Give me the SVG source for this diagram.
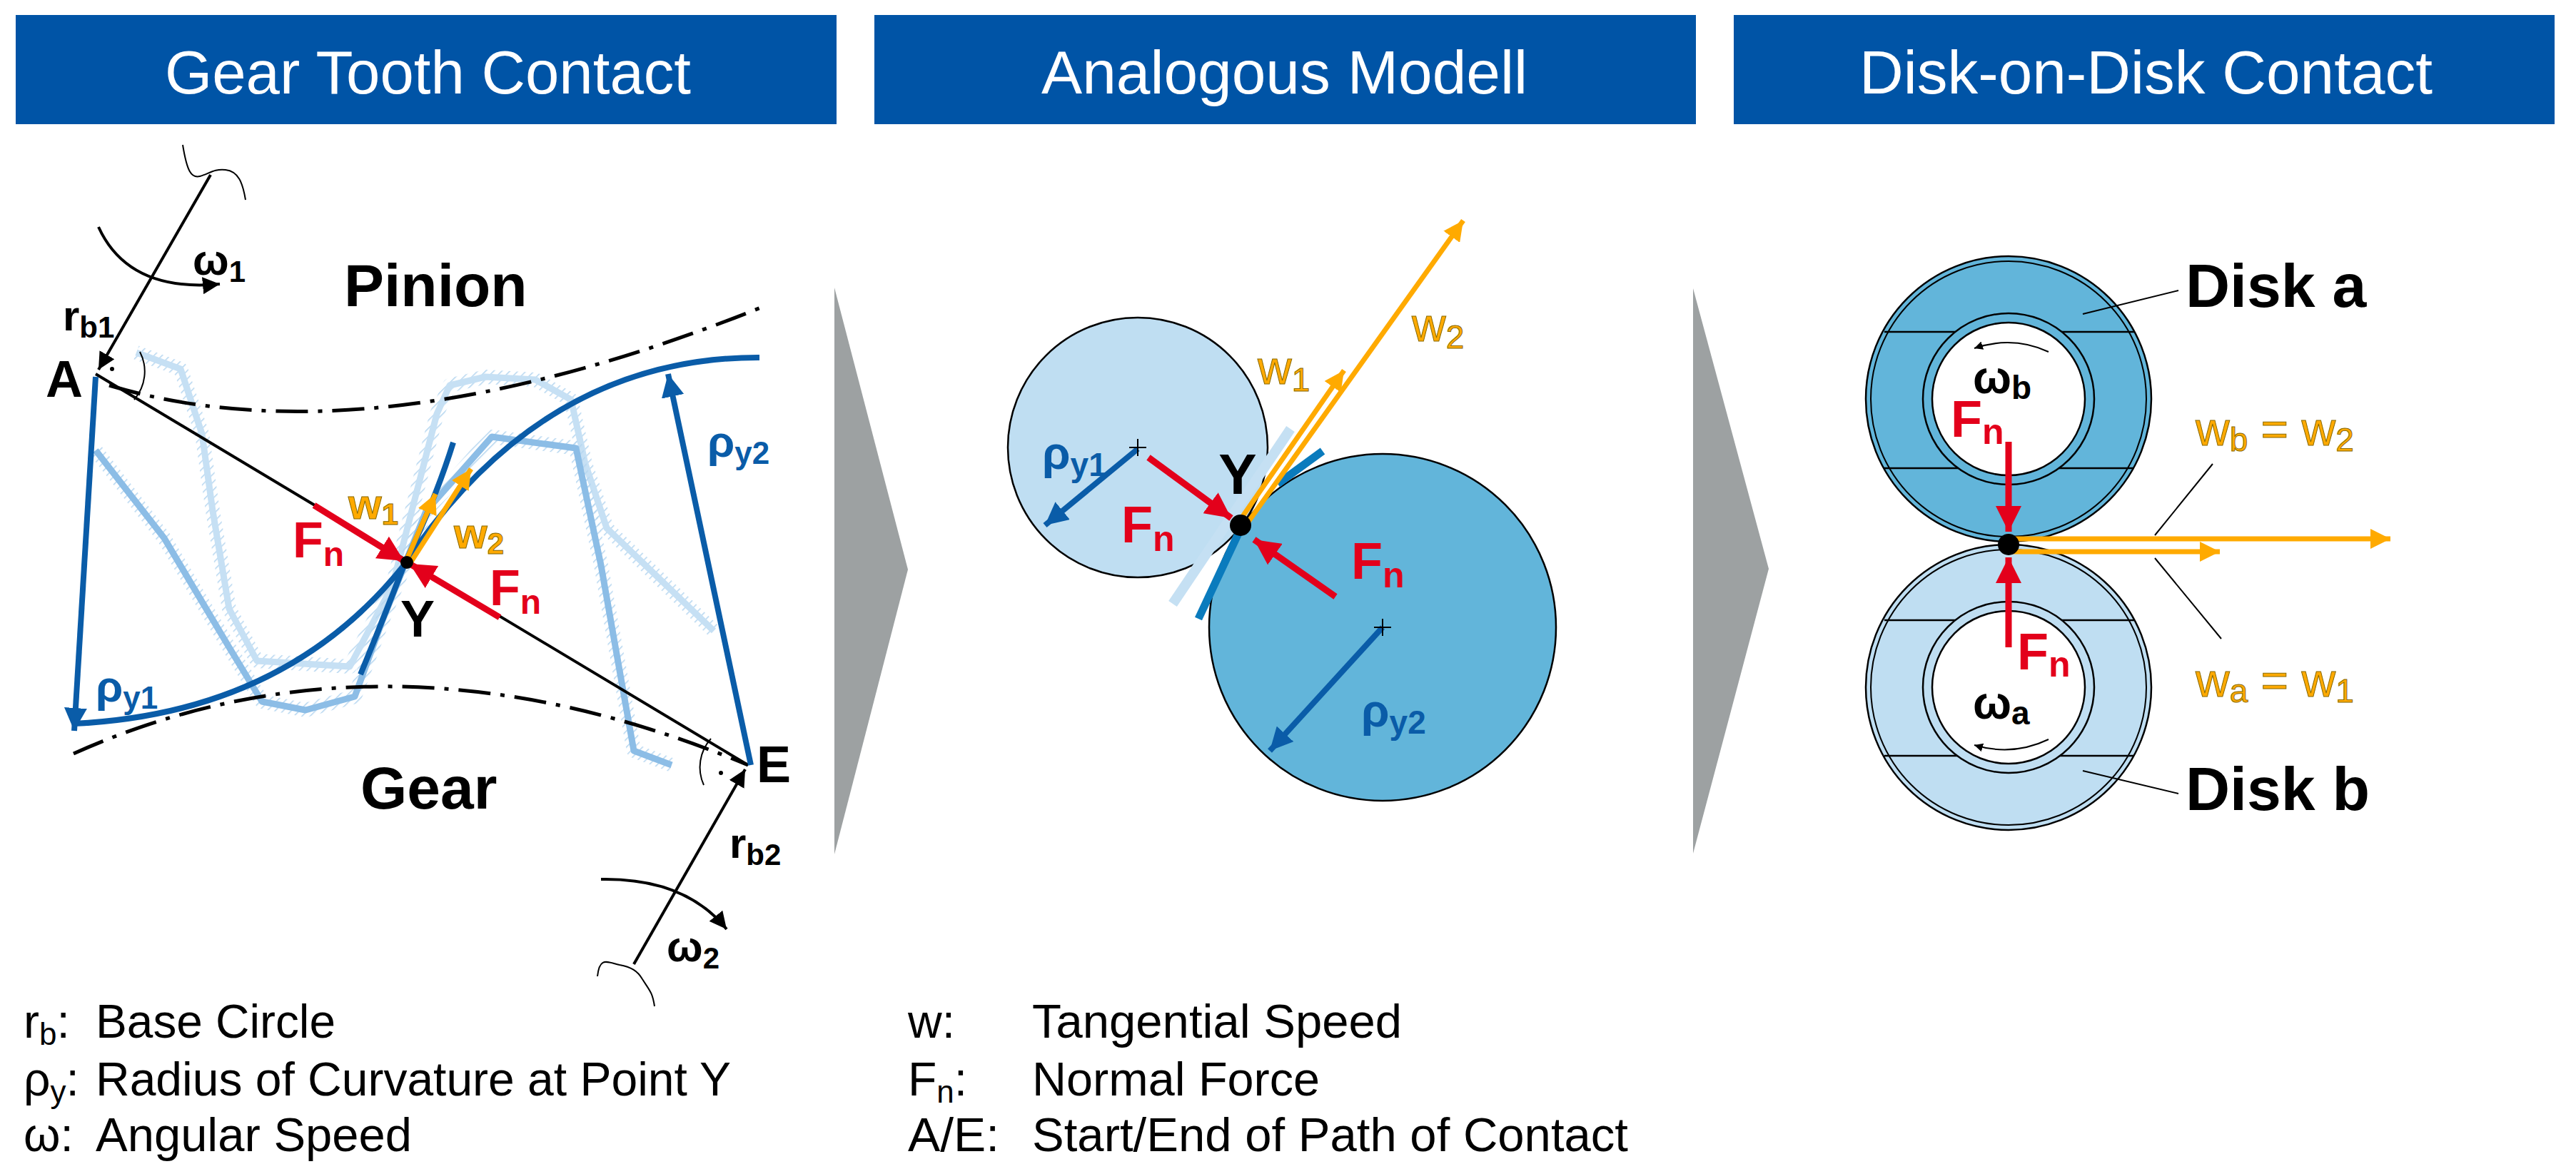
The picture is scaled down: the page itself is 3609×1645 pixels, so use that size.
<svg xmlns="http://www.w3.org/2000/svg" width="3609" height="1645" viewBox="0 0 3609 1645">
<style>
.hdr{fill:#0054a6}
.ht{font-family:"Liberation Sans",Arial,sans-serif;font-size:86px;fill:#fff}
.lb{font-family:"Liberation Sans",Arial,sans-serif;font-weight:bold}
.lg{font-family:"Liberation Sans",Arial,sans-serif;font-size:66px;fill:#000}
.blk{stroke:#000;stroke-width:4;fill:none}
.red{stroke:#e3001b;stroke-width:9;fill:none}
.org{stroke:#ffaa00;stroke-width:7;fill:none}
.dbl{stroke:#0a5ca8;stroke-width:8;fill:none}
.dd{stroke:#000;stroke-width:5;fill:none;stroke-dasharray:45 14 6 14}
.r{fill:#e3001b}.o{fill:#ffaa00;stroke:#8a6a00;stroke-width:1}.b{fill:#0a5ca8}
</style>
<defs>
<pattern id="hatch" width="8" height="8" patternUnits="userSpaceOnUse" patternTransform="rotate(45)"><line x1="0" y1="0" x2="0" y2="8" stroke="#b5d6f0" stroke-width="3"/></pattern>
<marker id="ar" viewBox="0 0 10 10" refX="10" refY="5" markerWidth="4" markerHeight="4" orient="auto"><path d="M0,0L10,5L0,10z" fill="#e3001b"/></marker>
<marker id="ao" viewBox="0 0 10 10" refX="10" refY="5" markerWidth="4" markerHeight="4" orient="auto"><path d="M0,0L10,5L0,10z" fill="#ffaa00"/></marker>
<marker id="ab" viewBox="0 0 10 10" refX="10" refY="5" markerWidth="4" markerHeight="4" orient="auto"><path d="M0,0L10,5L0,10z" fill="#0a5ca8"/></marker>
<marker id="akk" viewBox="0 0 10 10" refX="10" refY="5" markerWidth="6" markerHeight="6" orient="auto"><path d="M0,0L10,5L0,10z" fill="#000"/></marker>
</defs>

<g id="headers">
<rect class="hdr" x="22" y="21" width="1150" height="153"/>
<rect class="hdr" x="1225" y="21" width="1151" height="153"/>
<rect class="hdr" x="2429" y="21" width="1150" height="153"/>
<text class="ht" x="231" y="131" textLength="737" lengthAdjust="spacingAndGlyphs">Gear Tooth Contact</text>
<text class="ht" x="1459" y="131" textLength="681" lengthAdjust="spacingAndGlyphs">Analogous Modell</text>
<text class="ht" x="2605" y="131" textLength="803" lengthAdjust="spacingAndGlyphs">Disk-on-Disk Contact</text>
</g>

<g id="chevrons" fill="#9da1a2">
<path d="M1169,403L1272,798L1169,1197z"/>
<path d="M2372,404L2478,797L2372,1196z"/>
</g>

<g id="gear-contact">
<polyline points="191,494 253,517 283,608 298,716 321,853 360,926 490,934 550,820 612,580 630,540 680,528 750,532 800,560 820,650 850,740 1000,884" fill="none" stroke="url(#hatch)" stroke-width="20" stroke-linejoin="round"/>
<polyline points="191,494 253,517 283,608 298,716 321,853 360,926 490,934 550,820 612,580 630,540 680,528 750,532 800,560 820,650 850,740 1000,884" fill="none" stroke="#c6e0f4" stroke-width="9" stroke-linejoin="round"/>
<polyline points="134,631 230,754 321,907 367,983 428,995 497,976 536,869 597,716 689,612 807,628 842,792 869,945 888,1052 941,1072" fill="none" stroke="url(#hatch)" stroke-width="20" stroke-linejoin="round"/>
<polyline points="134,631 230,754 321,907 367,983 428,995 497,976 536,869 597,716 689,612 807,628 842,792 869,945 888,1052 941,1072" fill="none" stroke="#8cbde6" stroke-width="9" stroke-linejoin="round"/>
<path class="dd" d="M153,540 Q520,650 1071,429"/>
<path class="dd" d="M103,1056 Q540,860 1048,1072"/>
<path class="dbl" d="M103,1014 Q400,1000 566,792 Q760,500 1064,501"/>
<path class="dbl" d="M505,945 Q540,860 566,792 Q610,700 635,620"/>
<line class="blk" x1="134" y1="524" x2="1048" y2="1072" stroke-width="3"/>
<line class="dbl" x1="134" y1="528" x2="104" y2="1024" marker-end="url(#ab)"/>
<line class="dbl" x1="1052" y1="1072" x2="936" y2="524" marker-end="url(#ab)"/>
<line class="blk" x1="295" y1="245" x2="138" y2="518" marker-end="url(#akk)"/>
<path d="M256,203 C262,240 268,250 280,247 C292,244 300,236 316,238 C334,240 340,256 344,280" fill="none" stroke="#000" stroke-width="2"/>
<path d="M196,493 A60,60 0 0 1 188,560" fill="none" stroke="#000" stroke-width="2"/>
<circle cx="157" cy="517" r="3"/>
<path class="blk" d="M138,318 Q180,410 308,398" marker-end="url(#akk)"/>
<line class="blk" x1="888" y1="1351" x2="1044" y2="1078" marker-end="url(#akk)"/>
<path d="M837,1368 C840,1340 850,1348 868,1352 C884,1355 893,1360 900,1372 C910,1388 914,1390 917,1410" fill="none" stroke="#000" stroke-width="2"/>
<path d="M986,1100 A60,60 0 0 1 996,1035" fill="none" stroke="#000" stroke-width="2"/>
<circle cx="1010" cy="1083" r="3"/>
<path class="blk" d="M842,1232 Q960,1230 1018,1302" marker-end="url(#akk)"/>
<line class="red" x1="440" y1="708" x2="566" y2="786" marker-end="url(#ar)"/>
<line class="red" x1="700" y1="865" x2="574" y2="790" marker-end="url(#ar)"/>
<line class="org" x1="568" y1="788" x2="610" y2="692" marker-end="url(#ao)"/>
<line class="org" x1="574" y1="790" x2="660" y2="657" marker-end="url(#ao)"/>
<circle cx="570" cy="788" r="9"/>
<text class="lb" x="90" y="556" font-size="72" font-weight="normal" text-anchor="middle">A</text>
<text class="lb" x="1060" y="1096" font-size="72" font-weight="normal">E</text>
<text class="lb" x="585" y="892" font-size="72" font-weight="normal" text-anchor="middle">Y</text>
<text class="lb" x="482" y="429" font-size="84">Pinion</text>
<text class="lb" x="505" y="1133" font-size="84">Gear</text>
<text class="lb" x="270" y="385" font-size="60">ω<tspan font-size="42" dy="10">1</tspan></text>
<text class="lb" x="88" y="463" font-size="60">r<tspan font-size="42" dy="10">b1</tspan></text>
<text class="lb" x="1022" y="1202" font-size="60">r<tspan font-size="42" dy="10">b2</tspan></text>
<text class="lb" x="934" y="1347" font-size="60">ω<tspan font-size="42" dy="10">2</tspan></text>
<text class="lb b" x="134" y="983" font-size="62">ρ<tspan font-size="44" dy="10">y1</tspan></text>
<text class="lb b" x="991" y="640" font-size="62">ρ<tspan font-size="44" dy="10">y2</tspan></text>
<text class="lb r" x="410" y="781" font-size="70">F<tspan font-size="48" dy="12">n</tspan></text>
<text class="lb r" x="686" y="848" font-size="70">F<tspan font-size="48" dy="12">n</tspan></text>
<text class="lb o" x="488" y="727" font-size="60">w<tspan font-size="42" dy="8">1</tspan></text>
<text class="lb o" x="636" y="768" font-size="60">w<tspan font-size="42" dy="8">2</tspan></text>
</g>

<g id="analogous-model">
<circle cx="1594" cy="627" r="182" fill="#bfdef2" stroke="#000" stroke-width="2.5"/>
<circle cx="1937" cy="879" r="243" fill="#62b5da" stroke="#000" stroke-width="2.5"/>
<line x1="1643" y1="846" x2="1808" y2="601" stroke="#c5e0f3" stroke-width="14"/>
<line x1="1679" y1="867" x2="1738" y2="741" stroke="#0a7bbd" stroke-width="11"/>
<line x1="1790" y1="678" x2="1853" y2="632" stroke="#0a7bbd" stroke-width="11"/>
<line class="org" x1="1735" y1="732" x2="1883" y2="519" marker-end="url(#ao)"/>
<line class="org" x1="1744" y1="738" x2="2050" y2="309" marker-end="url(#ao)"/>
<line class="dbl" x1="1594" y1="629" x2="1464" y2="736" marker-end="url(#ab)"/>
<line class="dbl" x1="1937" y1="879" x2="1779" y2="1052" marker-end="url(#ab)"/>
<line class="red" x1="1609" y1="641" x2="1725" y2="726" marker-end="url(#ar)"/>
<line class="red" x1="1871" y1="836" x2="1757" y2="756" marker-end="url(#ar)"/>
<circle cx="1738" cy="736" r="15"/>
<path d="M1582,627H1606M1594,615V639M1925,879H1949M1937,867V891" stroke="#000" stroke-width="2"/>
<text class="lb" x="1734" y="692" font-size="80" font-weight="normal" text-anchor="middle">Y</text>
<text class="lb b" x="1460" y="657" font-size="64">ρ<tspan font-size="46" dy="10">y1</tspan></text>
<text class="lb b" x="1907" y="1018" font-size="64">ρ<tspan font-size="46" dy="10">y2</tspan></text>
<text class="lb r" x="1571" y="760" font-size="72">F<tspan font-size="50" dy="12">n</tspan></text>
<text class="lb r" x="1893" y="811" font-size="72">F<tspan font-size="50" dy="12">n</tspan></text>
<text class="o" font-family="Liberation Sans,Arial,sans-serif" x="1762" y="538" font-size="66">w<tspan font-size="46" dy="10">1</tspan></text>
<text class="o" font-family="Liberation Sans,Arial,sans-serif" x="1978" y="478" font-size="66">w<tspan font-size="46" dy="10">2</tspan></text>
</g>

<g id="disk-contact">
<g id="disk-a">
<circle cx="2814" cy="559" r="200" fill="#62b5da" stroke="#000" stroke-width="2.5"/>
<circle cx="2814" cy="559" r="193" fill="none" stroke="#000" stroke-width="2"/>
<path d="M2640,465H2990M2640,656H2990" stroke="#000" stroke-width="2.5"/>
<circle cx="2814" cy="559" r="120" fill="#62b5da" stroke="#000" stroke-width="2.5"/>
<circle cx="2814" cy="559" r="107" fill="#fff" stroke="#000" stroke-width="2.5"/>
</g>
<g id="disk-b">
<circle cx="2814" cy="963" r="200" fill="#bfdef2" stroke="#000" stroke-width="2.5"/>
<circle cx="2814" cy="963" r="193" fill="none" stroke="#000" stroke-width="2"/>
<path d="M2640,869H2990M2640,1059H2990" stroke="#000" stroke-width="2.5"/>
<circle cx="2814" cy="963" r="120" fill="#bfdef2" stroke="#000" stroke-width="2.5"/>
<circle cx="2814" cy="963" r="107" fill="#fff" stroke="#000" stroke-width="2.5"/>
</g>
<path d="M2870,493 Q2820,470 2766,488" fill="none" stroke="#000" stroke-width="2" marker-end="url(#akk)"/>
<path d="M2870,1036 Q2820,1060 2766,1044" fill="none" stroke="#000" stroke-width="2" marker-end="url(#akk)"/>
<line class="org" x1="2814" y1="755" x2="3349" y2="755" marker-end="url(#ao)"/>
<line class="org" x1="2814" y1="773" x2="3110" y2="773" marker-end="url(#ao)"/>
<line class="red" x1="2814" y1="619" x2="2814" y2="745" marker-end="url(#ar)"/>
<line class="red" x1="2814" y1="907" x2="2814" y2="781" marker-end="url(#ar)"/>
<circle cx="2814" cy="763" r="15"/>
<path d="M3019,750L3100,650M3019,782L3112,895M2918,440L3052,407M2918,1080L3052,1112" stroke="#000" stroke-width="2" fill="none"/>
<text class="lb" x="3062" y="430" font-size="86">Disk a</text>
<text class="lb" x="3062" y="1135" font-size="86">Disk b</text>
<text class="lb" x="2764" y="551" font-size="64">ω<tspan font-size="46" dy="8">b</tspan></text>
<text class="lb" x="2764" y="1007" font-size="64">ω<tspan font-size="46" dy="8">a</tspan></text>
<text class="lb r" x="2733" y="612" font-size="72">F<tspan font-size="50" dy="10">n</tspan></text>
<text class="lb r" x="2826" y="938" font-size="72">F<tspan font-size="50" dy="10">n</tspan></text>
<text class="o" font-family="Liberation Sans,Arial,sans-serif" x="3076" y="624" font-size="66">w<tspan font-size="46" dy="8">b</tspan><tspan dy="-8"> = w</tspan><tspan font-size="46" dy="8">2</tspan></text>
<text class="o" font-family="Liberation Sans,Arial,sans-serif" x="3076" y="976" font-size="66">w<tspan font-size="46" dy="8">a</tspan><tspan dy="-8"> = w</tspan><tspan font-size="46" dy="8">1</tspan></text>
</g>

<g id="legend">
<text class="lg" x="33" y="1454">r<tspan font-size="44" dy="10">b</tspan><tspan dy="-10">:</tspan></text>
<text class="lg" x="134" y="1454" textLength="336" lengthAdjust="spacingAndGlyphs">Base Circle</text>
<text class="lg" x="33" y="1535">ρ<tspan font-size="44" dy="10">y</tspan><tspan dy="-10">:</tspan></text>
<text class="lg" x="134" y="1535" textLength="890" lengthAdjust="spacingAndGlyphs">Radius of Curvature at Point Y</text>
<text class="lg" x="33" y="1613">ω:</text>
<text class="lg" x="134" y="1613" textLength="443" lengthAdjust="spacingAndGlyphs">Angular Speed</text>
<text class="lg" x="1272" y="1454">w:</text>
<text class="lg" x="1446" y="1454" textLength="518" lengthAdjust="spacingAndGlyphs">Tangential Speed</text>
<text class="lg" x="1272" y="1535">F<tspan font-size="44" dy="10">n</tspan><tspan dy="-10">:</tspan></text>
<text class="lg" x="1446" y="1535" textLength="403" lengthAdjust="spacingAndGlyphs">Normal Force</text>
<text class="lg" x="1272" y="1613" textLength="128" lengthAdjust="spacingAndGlyphs">A/E:</text>
<text class="lg" x="1446" y="1613" textLength="835" lengthAdjust="spacingAndGlyphs">Start/End of Path of Contact</text>
</g>
</svg>
